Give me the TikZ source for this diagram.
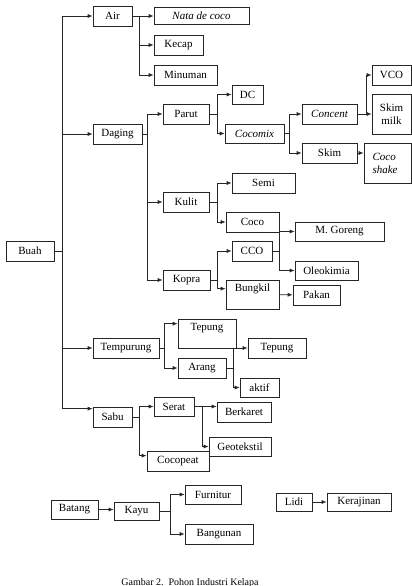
\documentclass[tikz,border=0pt]{standalone}
\usepackage{fontspec}
\setmainfont{Liberation Serif}
\usepackage{tikz}
\usetikzlibrary{arrows.meta, positioning}

\begin{document}
\begin{tikzpicture}[
            x=1pt, y=-1pt,
            box/.style={rectangle, draw=black!85, line width=0.7pt, inner sep=1pt, minimum height=20pt, align=center, font=\fontsize{11}{13}\selectfont},
            topbox/.style={box, minimum height=29pt, text depth=13pt},
            line/.style={draw=black!85, line width=0.7pt},
            arrow/.style={line, -{Latex[length=5pt,width=4pt]}}
        ]
            \useasboundingbox (0,0) rectangle (412,586);

            % left column
            \node[box, minimum width=48pt] (buah) at (30,251) {Buah};
            \node[box, minimum width=39pt] (air) at (112.5,16) {Air};
            \node[box, minimum width=49pt] (daging) at (117.5,134) {Daging};
            \node[box, minimum width=66pt] (tempurung) at (126,348) {Tempurung};
            \node[box, minimum width=39pt] (sabu) at (112.5,417) {Sabu};

            % air
            \node[box, minimum width=95pt, minimum height=17pt] (nata) at (201.5,16) {\itshape Nata de coco};
            \node[box, minimum width=49pt] (kecap) at (178.5,45) {Kecap};
            \node[box, minimum width=63pt] (minuman) at (185.5,75) {Minuman};

            % daging
            \node[box, minimum width=46pt] (parut) at (186,114) {Parut};
            \node[box, minimum width=31pt, minimum height=19pt] (dc) at (247.5,94.5) {DC};
            \node[box, minimum width=59pt, minimum height=19pt] (cocomix) at (254.5,133.5) {\itshape Cocomix};
            \node[box, minimum width=55pt] (concent) at (329.5,114) {\itshape Concent};
            \node[box, minimum width=55pt] (skim) at (329.5,153) {Skim};
            \node[box, minimum width=39pt] (vco) at (391.5,75) {VCO};
            \node[box, minimum width=39pt, minimum height=40pt] (skimmilk) at (391.5,114) {Skim\\milk};
            \node[box, minimum width=47pt, minimum height=40pt, align=left, font=\fontsize{11}{13}\selectfont\itshape] (cocoshake) at (387.5,163) {Coco\\shake\phantom{x}};
            \node[box, minimum width=46pt] (kulit) at (186,202) {Kulit};
            \node[box, minimum width=63pt] (semi) at (263.5,183) {Semi};
            \node[box, minimum width=53pt] (coco) at (252.5,222) {Coco};
            \node[box, minimum width=47pt] (kopra) at (186.5,280) {Kopra};
            \node[box, minimum width=40pt] (cco) at (252,251) {CCO};
            \node[topbox, minimum width=53pt] (bungkil) at (252.5,294.5) {Bungkil};
            \node[box, minimum width=89pt, minimum height=19pt] (goreng) at (339.5,231.5) {M. Goreng};
            \node[box, minimum width=63pt, minimum height=19pt] (oleokimia) at (326.5,270.5) {Oleokimia};
            \node[box, minimum width=47pt] (pakan) at (316.5,295) {Pakan};

            % tempurung
            \node[topbox, minimum width=58pt] (tepung) at (207,333.5) {Tepung};
            \node[box, minimum width=48pt] (arang) at (202,368) {Arang};
            \node[box, minimum width=58pt] (tepungarang) at (277,348) {Tepung};
            \node[box, minimum width=39pt, minimum height=19pt] (aktif) at (259.5,387.5) {aktif};

            % sabu
            \node[box, minimum width=40pt, minimum height=19pt] (serat) at (174,406.5) {Serat};
            \node[box, minimum width=62pt] (cocopeat) at (178,461) {Cocopeat};
            \node[box, minimum width=54pt] (berkaret) at (244,412) {Berkaret};
            \node[box, minimum width=62pt, minimum height=19pt] (geotekstil) at (240,446.5) {Geotekstil};

            % batang dan lidi
            \node[box, minimum width=47pt, minimum height=19pt] (batang) at (74.5,509.5) {Batang};
            \node[box, minimum width=45pt, minimum height=18pt] (kayu) at (136.5,511) {Kayu};
            \node[box, minimum width=56pt, minimum height=19pt] (furnitur) at (213,494.5) {Furnitur};
            \node[box, minimum width=68pt] (bangunan) at (219,534) {Bangunan};
            \node[box, minimum width=36pt, minimum height=18pt] (lidi) at (294,502) {Lidi};
            \node[box, minimum width=64pt, minimum height=18pt] (kerajinan) at (359,502) {Kerajinan};

            \node[anchor=base, font=\fontsize{10}{12}\selectfont] (caption) at (190,585) {Gambar 2.\ \ Pohon Industri Kelapa};

            % bus points
            \coordinate (buahbus) at (62,251);
            \coordinate (airbus) at (139,16);
            \coordinate (dagingbus) at (147,134);
            \coordinate (parutbus) at (217,114);
            \coordinate (cocomixbus) at (289,133.5);
            \coordinate (concentbus) at (366,114);
            \coordinate (kulitbus) at (217,202);
            \coordinate (koprabus) at (217,280);
            \coordinate (ccobus) at (279,251);
            \coordinate (tempurungbus) at (164,348);
            \coordinate (arangbus) at (233,368);
            \coordinate (sabubus) at (139,417);
            \coordinate (seratbus) at (202,406.5);
            \coordinate (kayubus) at (170,511);

            \draw[line] (buah) -- (buahbus);
            \draw[arrow] (buahbus) |- (air);
            \draw[arrow] (buahbus) |- (daging);
            \draw[arrow] (buahbus) |- (tempurung);
            \draw[arrow] (buahbus) |- ([yshift=-2pt]sabu.north west);

            \draw[arrow] (air) -- (nata);
            \draw[arrow] (airbus) |- (kecap);
            \draw[arrow] (airbus) |- (minuman);

            \draw[line] (daging) -- (dagingbus);
            \draw[arrow] (dagingbus) |- (parut);
            \draw[arrow] (dagingbus) |- (kulit);
            \draw[arrow] (dagingbus) |- (kopra);

            \draw[line] (parut) -- (parutbus);
            \draw[arrow] (parutbus) |- (dc);
            \draw[arrow] (parutbus) |- (cocomix);
            \draw[line] (cocomix) -- (cocomixbus);
            \draw[arrow] (cocomixbus) |- (concent);
            \draw[arrow] (cocomixbus) |- (skim);
            \draw[arrow] (concent) -- (skimmilk);
            \draw[arrow] (concentbus) |- (vco);
            \draw[arrow] (skim) -- (skim -| cocoshake.west);

            \draw[line] (kulit) -- (kulitbus);
            \draw[arrow] (kulitbus) |- (semi);
            \draw[arrow] (kulitbus) |- (coco);

            \draw[line] (kopra) -- (koprabus);
            \draw[arrow] (koprabus) |- (cco);
            \draw[arrow] (koprabus) |- ([yshift=-9pt]bungkil.north west);
            \draw[line] (cco) -- (ccobus);
            \draw[arrow] (ccobus) |- (goreng);
            \draw[arrow] (ccobus) |- (oleokimia);
            \draw[arrow] (bungkil) -- (pakan);

            \draw[line] (tempurung) -- (tempurungbus);
            \draw[arrow] (tempurungbus) |- ([yshift=-5pt]tepung.north west);
            \draw[arrow] (tempurungbus) |- (arang);
            \draw[line] (arang) -- (arangbus);
            \draw[arrow] (arangbus) |- (tepungarang);
            \draw[arrow] (arangbus) |- (aktif);

            \draw[line] (sabu) -- (sabubus);
            \draw[arrow] (sabubus) |- (serat);
            \draw[arrow] (sabubus) |- ([yshift=-5pt]cocopeat.north west);
            \draw[arrow] (serat) -- (serat -| berkaret.west);
            \draw[arrow] (seratbus) |- (geotekstil);

            \draw[arrow] (batang) -- (batang -| kayu.west);
            \draw[line] (kayu) -- (kayubus);
            \draw[arrow] (kayubus) |- (furnitur);
            \draw[arrow] (kayubus) |- (bangunan);
            \draw[arrow] (lidi) -- (kerajinan);
        \end{tikzpicture}
\end{document}
